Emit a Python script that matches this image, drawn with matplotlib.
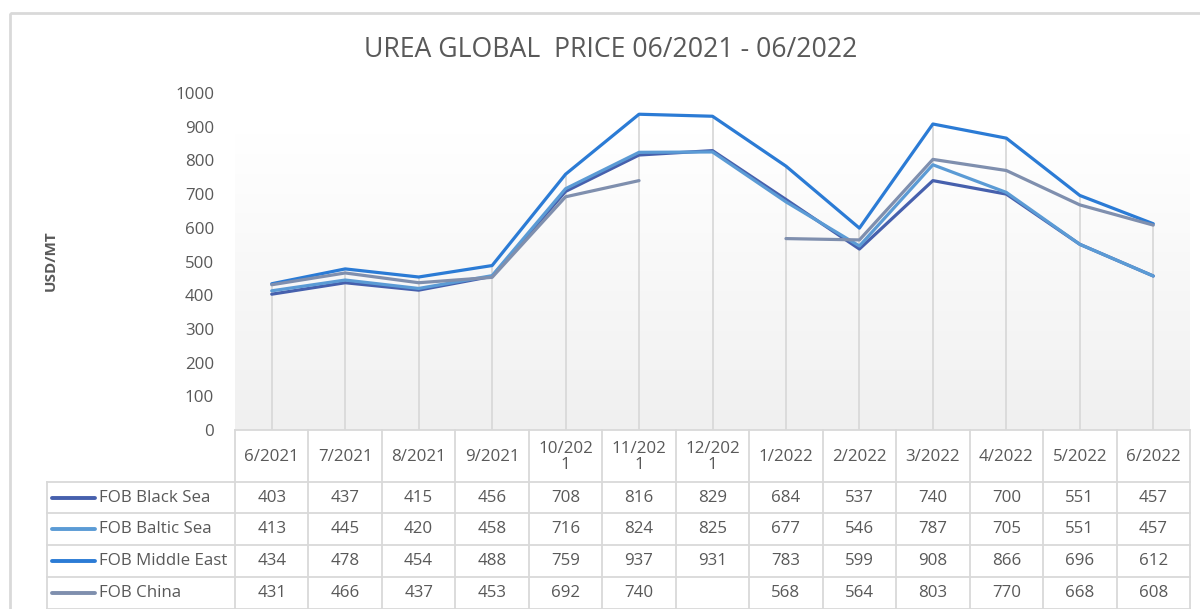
import numpy as np
import matplotlib
matplotlib.use("Agg")
import matplotlib.pyplot as plt
from matplotlib.patches import Rectangle

# ── Data ───────────────────────────────────────────────────────
months = ["6/2021", "7/2021", "8/2021", "9/2021", "10/2021", "11/2021", "12/2021",
          "1/2022", "2/2022", "3/2022", "4/2022", "5/2022", "6/2022"]
series_names = ["FOB Black Sea", "FOB Baltic Sea", "FOB Middle East", "FOB China"]
black_sea = [403, 437, 415, 456, 708, 816, 829, 684, 537, 740, 700, 551, 457]
baltic_sea = [413, 445, 420, 458, 716, 824, 825, 677, 546, 787, 705, 551, 457]
middle_east = [434, 478, 454, 488, 759, 937, 931, 783, 599, 908, 866, 696, 612]
china = [431, 466, 437, 453, 692, 740, None, 568, 564, 803, 770, 668, 608]
colors = ["#4660ad", "#5b9bd5", "#2b7bd5", "#7f8fae"]
yticks = [0, 100, 200, 300, 400, 500, 600, 700, 800, 900, 1000]

# ── Layout (pixels) ────────────────────────────────────────────
W, H = 1200, 609
TXT = "#595959"
GRID = "#d9d9d9"
FONT = "Open Sans"
FS = 12.2
plot_l, plot_r = 235, 1190
plot_b, plot_t = 430, 93
row_edges = [430, 482, 513, 545, 577, 609]
label_l = 47

fig = plt.figure(figsize=(W / 100, H / 100), dpi=100)
fig.patch.set_facecolor("white")

ax = fig.add_axes([plot_l / W, 1 - plot_b / H, (plot_r - plot_l) / W, (plot_b - plot_t) / H])
n = len(months)
x = np.arange(n)
ax.set_xlim(-0.5, n - 0.5)
ax.set_ylim(0, 1000)

# gradient plot area (white at top, light gray at bottom)
grad = np.clip(np.linspace(1.0, 0.0, 256).reshape(-1, 1) / 0.88, 0, 1)
ax.imshow(grad, extent=[0, 1, 0, 1], transform=ax.transAxes, aspect="auto",
          cmap=matplotlib.colors.LinearSegmentedColormap.from_list("g", ["#f0f0f0", "#ffffff"]),
          vmin=0, vmax=1, zorder=0)

all_series = [black_sea, baltic_sea, middle_east, china]
arr = np.array([[np.nan if v is None else v for v in s] for s in all_series], dtype=float)

# drop lines
ax.vlines(x, 0, np.nanmax(arr, axis=0), color=GRID, lw=1.3, zorder=1)

for vals, c in zip(arr, colors):
    ax.plot(x, vals, color=c, lw=2.3, solid_capstyle="round", solid_joinstyle="round", zorder=3)

for s in ax.spines.values():
    s.set_visible(False)
ax.set_xticks([])
ax.set_yticks(yticks)
ax.set_yticklabels([str(t) for t in yticks], fontsize=FS, color=TXT, family=FONT)
ax.tick_params(axis="y", length=0, pad=15)

# ── Table overlay ──────────────────────────────────────────────
ov = fig.add_axes([0, 0, 1, 1], facecolor="none")
ov.set_xlim(0, W)
ov.set_ylim(H, 0)
ov.axis("off")

col_w = (plot_r - plot_l) / n
col_edges = [plot_l + k * col_w for k in range(n + 1)]

ov.plot([plot_l, plot_r], [row_edges[0]] * 2, color=GRID, lw=1.3)
for yy in row_edges[1:]:
    ov.plot([label_l, plot_r], [yy, yy], color=GRID, lw=1.3)
for xx in col_edges:
    ov.plot([xx, xx], [row_edges[0], row_edges[-1]], color=GRID, lw=1.3)
ov.plot([label_l, label_l], [row_edges[1], row_edges[-1]], color=GRID, lw=1.3)

# header
for i, m in enumerate(months):
    lab = m if len(m) <= 6 else m[:6] + "\n" + m[6:]
    ov.text((col_edges[i] + col_edges[i + 1]) / 2, (row_edges[0] + row_edges[1]) / 2 + 1, lab,
            ha="center", va="center", fontsize=FS, color=TXT, family=FONT, linespacing=1.0)

# rows
for r, (name, vals, c) in enumerate(zip(series_names, all_series, colors)):
    yc = (row_edges[r + 1] + row_edges[r + 2]) / 2
    ov.plot([52, 95], [yc, yc], color=c, lw=2.8, solid_capstyle="round")
    ov.text(99, yc, name, ha="left", va="center", fontsize=FS, color=TXT, family=FONT)
    for i, v in enumerate(vals):
        if v is None:
            continue
        ov.text((col_edges[i] + col_edges[i + 1]) / 2, yc, str(v),
                ha="center", va="center", fontsize=FS, color=TXT, family=FONT)

# title and axis label
ov.text(611, 50, "UREA GLOBAL  PRICE 06/2021 - 06/2022", ha="center", va="center",
        fontsize=19.2, color=TXT, family=FONT)
ov.text(51, 261, "USD/MT", ha="center", va="center", rotation=90,
        fontsize=11, color=TXT, family=FONT, fontweight="bold")

# chart border
ov.add_patch(Rectangle((10, 13), W, H, fill=False, ec=GRID, lw=2))

fig.savefig("out.png", dpi=100)
